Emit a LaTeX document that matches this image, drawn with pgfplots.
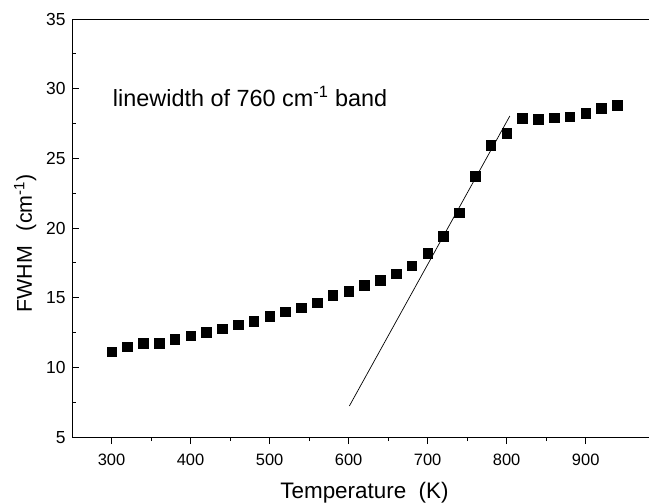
\documentclass[border=0pt]{standalone}
\usepackage{fontspec}
\setmainfont{Liberation Sans}
\usepackage{pgfplots}
\pgfplotsset{compat=1.18}
\begin{document}
\begin{tikzpicture}
\begin{axis}[
  scale only axis,
  width=576.7bp, height=418bp,
  xmin=250, xmax=980, ymin=5, ymax=35,
  axis x line*=box, axis y line*=left,
  axis line style={line width=0.9bp},
  xtick={300,400,...,900}, ytick={5,10,...,35},
  minor x tick num=1, minor y tick num=1,
  xtick pos=bottom, ytick pos=left,
  tick align=inside,
  major tick length=7bp, minor tick length=4bp,
  every tick/.style={black, line width=0.9bp},
  major x tick style={yshift=-7bp},
  minor x tick style={yshift=-4bp},
  /pgf/number format/assume math mode=true,
  xticklabel style={font=\fontsize{16.5}{18}\selectfont, yshift=-13bp},
  yticklabel style={font=\fontsize{17.5}{20}\selectfont, xshift=-3bp},
  xlabel={Temperature\ \ (K)},
  ylabel={FWHM\hspace{15bp}(cm\textsuperscript{-1})},
  xlabel style={font=\fontsize{22.5}{26}\selectfont, at={(axis description cs:0.507,-0.146)}, anchor=base},
  ylabel style={font=\fontsize{21.5}{24}\selectfont, at={(axis description cs:-0.0694,0.463)}, anchor=base},
  clip=false,
]
\addplot[only marks, mark=square*, mark size=4.8bp, black] coordinates {
(300,11.12)(320,11.48)(340,11.72)(360,11.72)(380,12.03)(400,12.27)
(420,12.51)(440,12.79)(460,13.08)(480,13.32)(500,13.66)(520,13.99)
(540,14.28)(560,14.66)(580,15.19)(600,15.47)(620,15.90)(640,16.26)
(660,16.74)(680,17.29)(700,18.18)(720,19.42)(740,21.10)(760,23.73)
(780,25.95)(800,26.79)(820,27.87)(840,27.80)(860,27.92)(880,27.99)
(900,28.23)(920,28.59)(940,28.83)
};
\addplot[black, line width=0.7bp] coordinates {(601,7.24)(804,28.04)};
\node[anchor=base west, font=\fontsize{23.5}{26}\selectfont, inner sep=0pt] at (axis cs:301.6,28.70) {linewidth of 760 cm\textsuperscript{-1} band};
\end{axis}
\pgfresetboundingbox
\path[use as bounding box] ([shift={(-72bp,-65bp)}]current axis.south west) rectangle ([shift={(0.1bp,19bp)}]current axis.north east);
\end{tikzpicture}
\end{document}
